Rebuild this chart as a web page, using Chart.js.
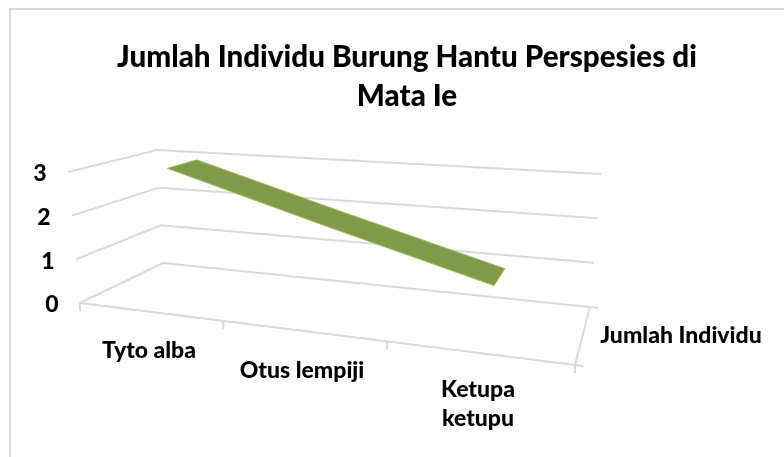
<!DOCTYPE html>
<html lang="id">
<head>
    <meta charset="UTF-8">
    <title>Jumlah Individu Burung Hantu Perspesies di Mata Ie</title>
    <script src="https://cdn.jsdelivr.net/npm/chart.js"></script>
    <style>
        html, body {
            margin: 0;
            background-color: #ffffff;
            overflow: hidden;
        }

        .frame {
            position: absolute;
            left: 9px;
            top: 8px;
            width: 790px;
            height: 460px;
            border: 2px solid #d9d9d9;
        }

        .chart-container {
            position: absolute;
            left: 0;
            top: 0;
            width: 784px;
            height: 457px;
        }
    </style>
</head>
<body>

<div class="frame"></div>
<div class="chart-container">
    <canvas id="chartBurung"></canvas>
</div>

<script>
    const titleLines = ['Jumlah Individu Burung Hantu Perspesies di', 'Mata Ie'];
    const categories = ['Tyto alba', 'Otus lempiji', 'Ketupa ketupu'];
    const seriesName = 'Jumlah Individu';
    const jumlah = [3, 2, 1];
    const valueTicks = [0, 1, 2, 3];

    const maxValue = valueTicks[valueTicks.length - 1];

    // pixel corners of the 3D box, floor and top plane
    const floorQuad = [[80, 303], [163, 263], [590, 307], [575, 365]];
    const topQuad = [[68, 172], [157, 150], [601, 174], [590, 211]];
    const ribbonDepth = [0.33, 0.69];
    const ribbonShift = 0.01;

    // unit square -> quad (u along the categories, d into the depth)
    function makeHomography(q) {
        const [p0, p3, p2, p1] = q; // p0 front-left, p1 front-right, p2 back-right, p3 back-left
        const dx1 = p1[0] - p2[0], dx2 = p3[0] - p2[0], sx = p0[0] - p1[0] + p2[0] - p3[0];
        const dy1 = p1[1] - p2[1], dy2 = p3[1] - p2[1], sy = p0[1] - p1[1] + p2[1] - p3[1];
        const den = dx1 * dy2 - dx2 * dy1;
        const g = (sx * dy2 - dx2 * sy) / den;
        const h = (dx1 * sy - sx * dy1) / den;
        const a = p1[0] - p0[0] + g * p1[0], b = p3[0] - p0[0] + h * p3[0];
        const d = p1[1] - p0[1] + g * p1[1], e = p3[1] - p0[1] + h * p3[1];
        return (u, v) => {
            const w = g * u + h * v + 1;
            return [(a * u + b * v + p0[0]) / w, (d * u + e * v + p0[1]) / w];
        };
    }

    const floorMap = makeHomography(floorQuad);
    const topMap = makeHomography(topQuad);

    function project(u, depth, value) {
        const f = floorMap(u, depth);
        const t = topMap(u, depth);
        const k = value / maxValue;
        return { x: f[0] + (t[0] - f[0]) * k, y: f[1] + (t[1] - f[1]) * k };
    }

    function centerOf(i) {
        return (i + 0.5) / categories.length + ribbonShift;
    }

    const gridColor = '#d9d9d9';
    const datasets = [];

    function addLine(points) {
        datasets.push({
            data: points,
            order: 1,
            borderColor: gridColor,
            borderWidth: 2,
            pointRadius: 0,
            fill: false
        });
    }

    // value gridlines: side wall + back wall
    valueTicks.forEach(v => {
        addLine([project(0, 0, v), project(0, 1, v), project(1, 1, v)]);
    });
    // floor front edge and right edge
    addLine([project(0, 0, 0), project(1, 0, 0), project(1, 1, 0)]);
    // category ticks
    for (let i = 0; i <= categories.length; i++) {
        const p = project(i / categories.length, 0, 0);
        addLine([p, { x: p.x, y: p.y + 8 }]);
    }
    // little value ticks on the right side
    [project(1, 1, 0), project(1, 0, 0)].forEach(p => {
        addLine([p, { x: p.x + 8, y: p.y + 1 }]);
    });

    // the series ribbon
    const front = jumlah.map((v, i) => project(centerOf(i), ribbonDepth[0], v));
    const back = jumlah.map((v, i) => project(centerOf(i), ribbonDepth[1], v)).reverse();
    const ribbon = front.concat(back);
    ribbon.push(front[0]);
    datasets.push({
        label: seriesName,
        data: ribbon,
        order: 0,
        borderColor: '#9bbb59',
        borderWidth: 1,
        backgroundColor: '#7f9a48',
        pointRadius: 0,
        fill: 'shape'
    });

    // text that sits on the 3D axes
    const axisLabels = {
        id: 'axisLabels',
        afterDatasetsDraw(chart) {
            const ctx = chart.ctx;
            const sx = chart.scales.x, sy = chart.scales.y;
            ctx.save();
            ctx.font = '900 23px Lato';
            ctx.fillStyle = '#000000';
            ctx.textAlign = 'center';
            ctx.textBaseline = 'middle';
            valueTicks.forEach(v => {
                const p = project(0, 0, v);
                ctx.fillText(String(v), sx.getPixelForValue(p.x - 28), sy.getPixelForValue(p.y + 2));
            });
            ctx.fillText(categories[0], sx.getPixelForValue(149), sy.getPixelForValue(351));
            ctx.fillText(categories[1], sx.getPixelForValue(302), sy.getPixelForValue(371));
            ctx.fillText('Ketupa', sx.getPixelForValue(478), sy.getPixelForValue(390));
            ctx.fillText('ketupu', sx.getPixelForValue(478), sy.getPixelForValue(419));
            ctx.fillText(seriesName, sx.getPixelForValue(681), sy.getPixelForValue(336));
            ctx.restore();
        }
    };

    // title block height = padding + two lines
    const titleSize = 29.6;
    const titleLineHeight = 39;
    const titlePadding = { top: 38, bottom: 5 };
    const plotTop = titlePadding.top + titleLines.length * titleLineHeight + titlePadding.bottom;
    const plotLeft = 30;

    new Chart(document.getElementById('chartBurung'), {
        type: 'line',
        data: { datasets: datasets },
        options: {
            responsive: true,
            maintainAspectRatio: false,
            animation: false,
            layout: { padding: { left: plotLeft } },
            plugins: {
                legend: { display: false },
                tooltip: { enabled: false },
                title: {
                    display: true,
                    fullSize: false,
                    text: titleLines,
                    color: '#000000',
                    font: { family: 'Lato', size: titleSize, weight: '900', lineHeight: titleLineHeight / titleSize },
                    padding: titlePadding
                }
            },
            scales: {
                x: { type: 'linear', display: false, min: plotLeft, max: 784 },
                y: { type: 'linear', display: false, reverse: true, min: plotTop, max: 457 }
            }
        },
        plugins: [axisLabels]
    });
</script>
</body>
</html>
